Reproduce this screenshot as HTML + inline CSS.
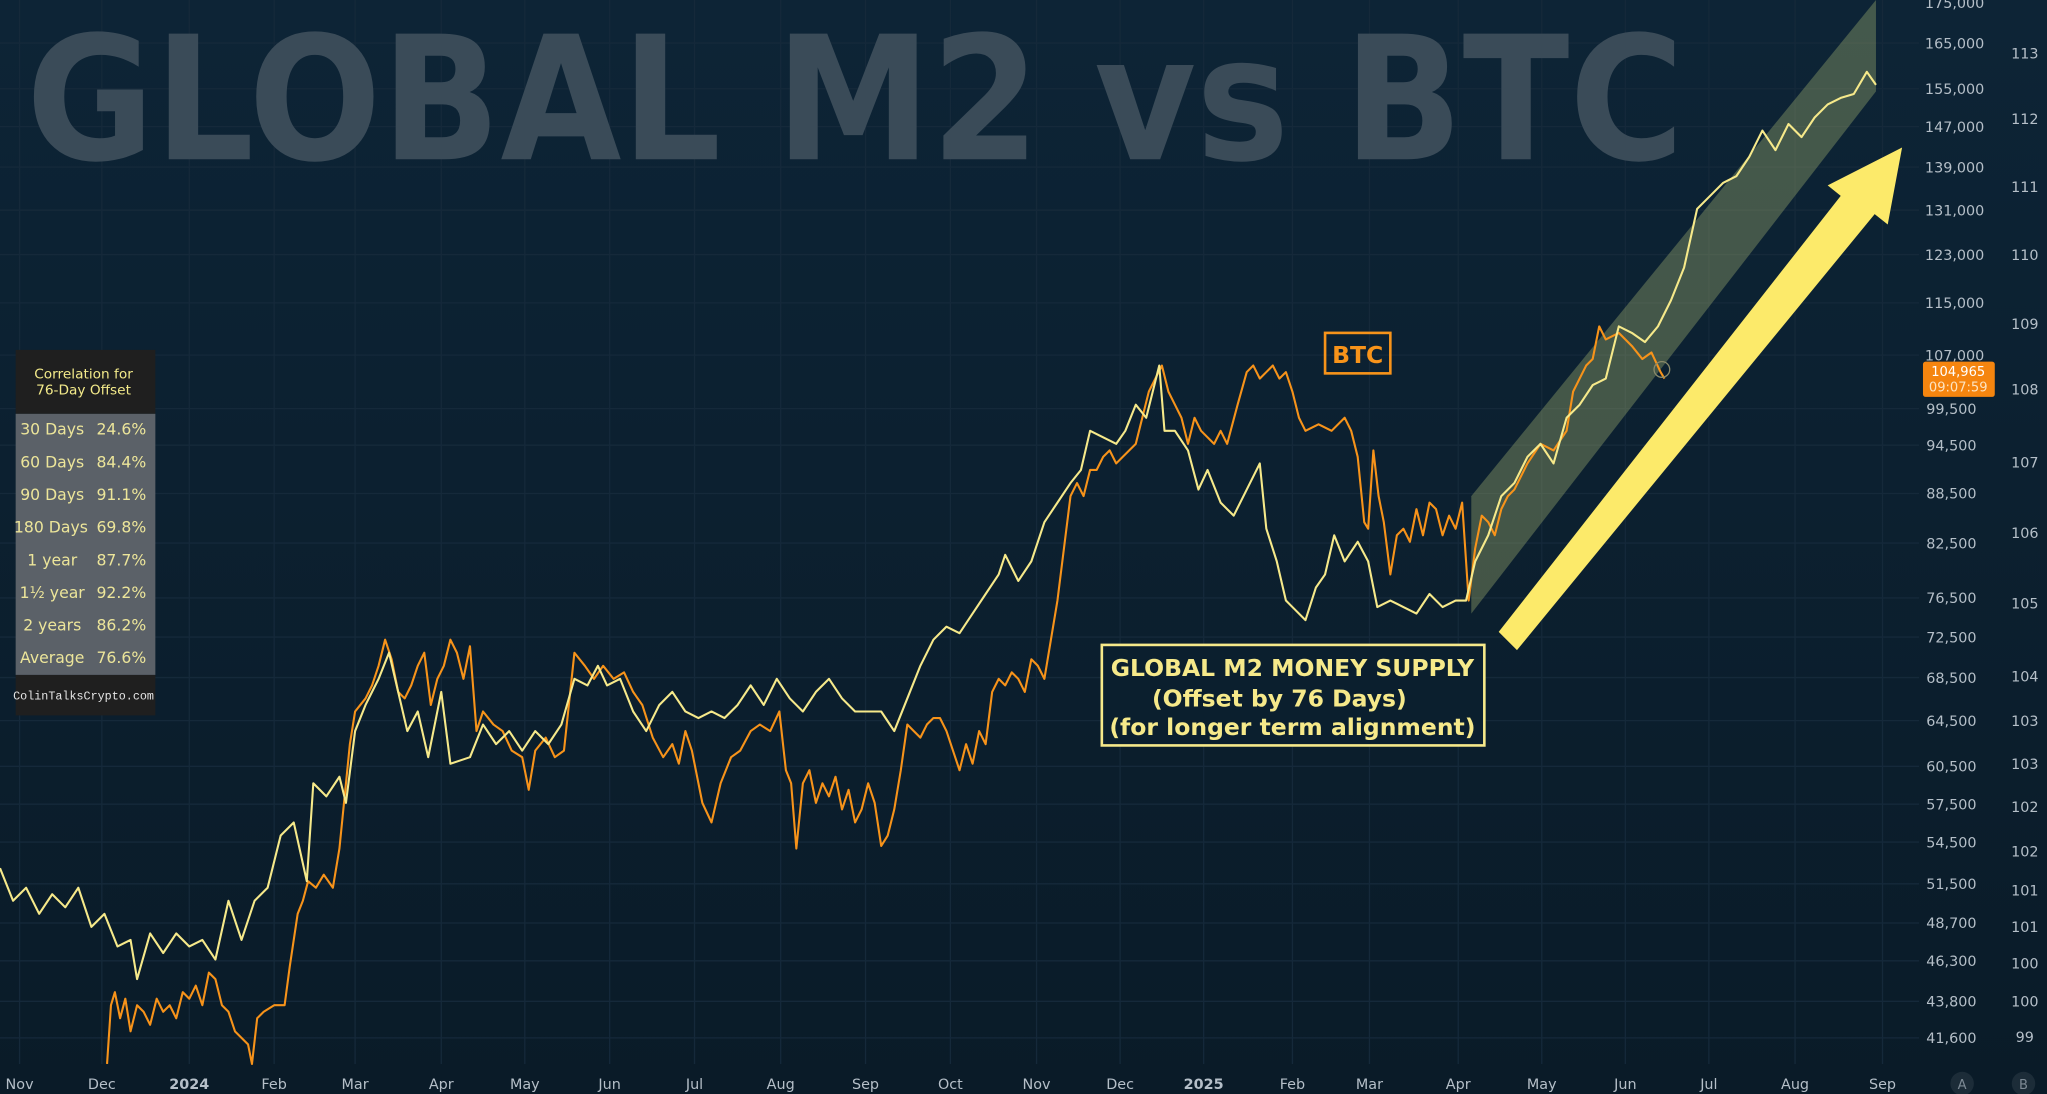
<!DOCTYPE html>
<html><head><meta charset="utf-8"><style>
html,body{margin:0;padding:0;background:#0b1f2e;}
svg{display:block;}
</style></head><body>
<svg width="2047" height="1094" viewBox="0 0 1568 838" preserveAspectRatio="none" xmlns="http://www.w3.org/2000/svg" font-family="'DejaVu Sans','Liberation Sans',sans-serif">
<defs>
<linearGradient id="bg" x1="0" y1="0" x2="0" y2="1">
<stop offset="0" stop-color="#0d2436"/><stop offset="1" stop-color="#0a1b28"/>
</linearGradient>
</defs>
<rect width="1568" height="838" fill="url(#bg)"/>
<g stroke="#15293a" stroke-width="1">
<line x1="15" y1="0" x2="15" y2="815"/><line x1="78" y1="0" x2="78" y2="815"/><line x1="145" y1="0" x2="145" y2="815"/><line x1="210" y1="0" x2="210" y2="815"/><line x1="272" y1="0" x2="272" y2="815"/><line x1="338" y1="0" x2="338" y2="815"/><line x1="402" y1="0" x2="402" y2="815"/><line x1="467" y1="0" x2="467" y2="815"/><line x1="532" y1="0" x2="532" y2="815"/><line x1="598" y1="0" x2="598" y2="815"/><line x1="663" y1="0" x2="663" y2="815"/><line x1="728" y1="0" x2="728" y2="815"/><line x1="794" y1="0" x2="794" y2="815"/><line x1="858" y1="0" x2="858" y2="815"/><line x1="922" y1="0" x2="922" y2="815"/><line x1="990" y1="0" x2="990" y2="815"/><line x1="1049" y1="0" x2="1049" y2="815"/><line x1="1117" y1="0" x2="1117" y2="815"/><line x1="1181" y1="0" x2="1181" y2="815"/><line x1="1245" y1="0" x2="1245" y2="815"/><line x1="1309" y1="0" x2="1309" y2="815"/><line x1="1375" y1="0" x2="1375" y2="815"/><line x1="1442" y1="0" x2="1442" y2="815"/>
<line x1="0" y1="33" x2="1470" y2="33"/><line x1="0" y1="68" x2="1470" y2="68"/><line x1="0" y1="97" x2="1470" y2="97"/><line x1="0" y1="128" x2="1470" y2="128"/><line x1="0" y1="161" x2="1470" y2="161"/><line x1="0" y1="195" x2="1470" y2="195"/><line x1="0" y1="232" x2="1470" y2="232"/><line x1="0" y1="272" x2="1470" y2="272"/><line x1="0" y1="313" x2="1470" y2="313"/><line x1="0" y1="341" x2="1470" y2="341"/><line x1="0" y1="378" x2="1470" y2="378"/><line x1="0" y1="416" x2="1470" y2="416"/><line x1="0" y1="458" x2="1470" y2="458"/><line x1="0" y1="488" x2="1470" y2="488"/><line x1="0" y1="519" x2="1470" y2="519"/><line x1="0" y1="552" x2="1470" y2="552"/><line x1="0" y1="587" x2="1470" y2="587"/><line x1="0" y1="616" x2="1470" y2="616"/><line x1="0" y1="645" x2="1470" y2="645"/><line x1="0" y1="677" x2="1470" y2="677"/><line x1="0" y1="707" x2="1470" y2="707"/><line x1="0" y1="736" x2="1470" y2="736"/><line x1="0" y1="767" x2="1470" y2="767"/><line x1="0" y1="795" x2="1470" y2="795"/>
</g>
<text x="20" y="122" font-size="132" font-weight="bold" fill="#3a4b58" textLength="1270" lengthAdjust="spacingAndGlyphs" font-family="'DejaVu Sans',sans-serif">GLOBAL M2 vs BTC</text>

<polygon points="1127,380 1437,0 1437,70 1127,470" fill="#b5c47a" fill-opacity="0.33"/>

<polyline fill="none" stroke="#f7931a" stroke-width="1.6" stroke-linejoin="round" points="82,815 85,770 88,760 92,780 96,765 100,790 105,770 110,775 115,785 120,765 125,775 130,770 135,780 140,760 145,765 150,755 155,770 160,745 165,750 170,770 175,775 180,790 185,795 190,800 193,815 197,780 202,775 210,770 218,770 222,740 228,700 232,690 236,675 242,680 248,670 255,680 260,650 265,600 268,570 272,545 276,540 280,535 285,525 290,510 295,490 300,505 305,530 310,535 315,525 320,510 325,500 330,540 335,520 340,510 345,490 350,500 355,520 360,495 365,560 370,545 378,555 385,560 392,575 400,580 405,605 410,575 418,565 425,580 432,575 440,500 448,510 455,520 462,510 470,520 478,515 485,530 492,540 500,565 508,580 515,570 520,585 525,560 530,575 538,615 545,630 552,600 560,580 567,575 575,560 582,555 590,560 597,545 602,590 606,600 610,650 615,600 620,590 625,615 630,600 635,610 640,595 645,620 650,605 655,630 660,620 665,600 670,615 675,648 680,640 685,620 690,590 695,555 700,560 705,565 710,555 715,550 720,550 725,560 730,575 735,590 740,570 745,585 750,560 755,570 760,530 765,520 770,525 775,515 780,520 785,530 790,505 795,510 800,520 805,490 810,460 815,420 820,380 825,370 830,380 835,360 840,360 845,350 850,345 855,355 860,350 865,345 870,340 875,320 880,300 885,290 890,280 895,300 900,310 905,320 910,340 915,320 920,330 930,340 935,330 940,340 948,310 955,285 960,280 965,290 970,285 975,280 980,290 985,285 990,300 995,320 1000,330 1010,325 1020,330 1030,320 1035,330 1040,350 1045,400 1048,405 1052,345 1056,380 1060,400 1065,440 1070,410 1075,405 1080,415 1085,390 1090,410 1095,385 1100,390 1105,410 1110,395 1115,405 1120,385 1125,460 1130,420 1135,395 1140,400 1145,410 1150,390 1155,380 1160,375 1170,355 1180,340 1190,345 1200,330 1205,300 1210,290 1215,280 1220,275 1225,250 1230,260 1240,255 1250,265 1258,275 1265,270 1272,285 1275,290"/>

<polyline fill="none" stroke="#f6e98a" stroke-width="1.6" stroke-linejoin="round" points="0,665 10,690 20,680 30,700 40,685 50,695 60,680 70,710 80,700 90,725 100,720 105,750 115,715 125,730 135,715 145,725 155,720 165,735 175,690 185,720 195,690 205,680 215,640 225,630 235,675 240,600 250,610 260,595 265,615 272,560 280,540 290,520 298,500 305,530 312,560 320,545 328,580 338,530 345,585 360,580 370,555 380,570 390,560 400,575 410,560 420,570 430,555 440,520 450,525 458,510 465,525 475,520 485,545 495,560 505,540 515,530 525,545 535,550 545,545 555,550 565,540 575,525 585,540 595,520 605,535 615,545 625,530 635,520 645,535 655,545 665,545 675,545 685,560 695,535 705,510 715,490 725,480 735,485 745,470 755,455 765,440 770,425 780,445 790,430 800,400 810,385 820,370 828,360 835,330 845,335 855,340 862,330 870,310 878,320 883,300 888,280 892,330 900,330 910,345 918,375 925,360 935,385 945,395 955,375 965,355 970,405 978,430 985,460 990,465 1000,475 1008,450 1015,440 1022,410 1030,430 1040,415 1048,430 1055,465 1065,460 1075,465 1085,470 1095,455 1105,465 1115,460 1123,460 1130,430 1140,410 1150,380 1160,370 1170,350 1180,340 1190,355 1200,320 1210,310 1220,295 1230,290 1240,250 1250,255 1260,262 1270,250 1280,230 1290,205 1300,160 1310,150 1320,140 1330,135 1340,120 1350,100 1360,115 1370,95 1380,105 1390,90 1400,80 1410,75 1420,72 1430,55 1437,65"/>

<circle cx="1273" cy="283" r="6" fill="none" stroke="#8a8a6a" stroke-width="1"/>

<polygon points="1148,484 1410,150 1400,142 1457,113 1446,172 1436,164 1162,498" fill="#fcea6a"/>

<rect x="1015" y="255" width="50" height="31" fill="none" stroke="#f7931a" stroke-width="2"/>
<text x="1040" y="278" font-size="18" font-weight="bold" fill="#f7931a" text-anchor="middle">BTC</text>

<rect x="844" y="494" width="293" height="77" fill="#0b1f2e" stroke="#f6e98a" stroke-width="2"/>
<g font-size="18" font-weight="bold" fill="#f6e98a" text-anchor="middle">
<text x="990" y="518">GLOBAL M2 MONEY SUPPLY</text>
<text x="980" y="541">(Offset by 76 Days)</text>
<text x="990" y="563">(for longer term alignment)</text>
</g>

<rect x="12" y="268" width="107" height="49" fill="#1f1f1f"/>
<rect x="12" y="317" width="107" height="200" fill="#5b6168"/>
<rect x="12" y="517" width="107" height="31" fill="#1f1f1f"/>
<g font-size="10.5" fill="#f3ea8a" text-anchor="middle">
<text x="64" y="290">Correlation for</text>
<text x="64" y="302">76-Day Offset</text>
</g>
<g font-size="12" fill="#ece59a">
<g text-anchor="middle">
<text x="40" y="333">30 Days</text><text x="40" y="358">60 Days</text><text x="40" y="383">90 Days</text><text x="39" y="408">180 Days</text><text x="40" y="433">1 year</text><text x="40" y="458">1½ year</text><text x="40" y="483">2 years</text><text x="40" y="508">Average</text>
</g>
<g text-anchor="end">
<text x="112" y="333">24.6%</text><text x="112" y="358">84.4%</text><text x="112" y="383">91.1%</text><text x="112" y="408">69.8%</text><text x="112" y="433">87.7%</text><text x="112" y="458">92.2%</text><text x="112" y="483">86.2%</text><text x="112" y="508">76.6%</text>
</g>
</g>
<text x="64" y="536" font-size="9" fill="#e6e6e6" text-anchor="middle" font-family="'Liberation Mono',monospace">ColinTalksCrypto.com</text>

<g font-size="11" fill="#b5bfc8" text-anchor="end">
<text x="1520" y="6">175,000</text><text x="1520" y="37">165,000</text><text x="1520" y="72">155,000</text><text x="1520" y="101">147,000</text><text x="1520" y="132">139,000</text><text x="1520" y="165">131,000</text><text x="1520" y="199">123,000</text><text x="1520" y="236">115,000</text><text x="1520" y="276">107,000</text><text x="1514" y="317">99,500</text><text x="1514" y="345">94,500</text><text x="1514" y="382">88,500</text><text x="1514" y="420">82,500</text><text x="1514" y="462">76,500</text><text x="1514" y="492">72,500</text><text x="1514" y="523">68,500</text><text x="1514" y="556">64,500</text><text x="1514" y="591">60,500</text><text x="1514" y="620">57,500</text><text x="1514" y="649">54,500</text><text x="1514" y="681">51,500</text><text x="1514" y="711">48,700</text><text x="1514" y="740">46,300</text><text x="1514" y="771">43,800</text><text x="1514" y="799">41,600</text>
</g>
<g font-size="11" fill="#b5bfc8" text-anchor="middle">
<text x="1551" y="45">113</text><text x="1551" y="95">112</text><text x="1551" y="147">111</text><text x="1551" y="199">110</text><text x="1551" y="252">109</text><text x="1551" y="302">108</text><text x="1551" y="358">107</text><text x="1551" y="412">106</text><text x="1551" y="466">105</text><text x="1551" y="522">104</text><text x="1551" y="556">103</text><text x="1551" y="589">103</text><text x="1551" y="622">102</text><text x="1551" y="656">102</text><text x="1551" y="686">101</text><text x="1551" y="714">101</text><text x="1551" y="742">100</text><text x="1551" y="771">100</text><text x="1551" y="798">99</text>
</g>
<rect x="1473" y="277" width="55" height="27" rx="2" fill="#f5850f"/>
<text x="1500" y="288" font-size="10" fill="#fff" text-anchor="middle">104,965</text>
<text x="1500" y="300" font-size="10" fill="#fde3c0" text-anchor="middle">09:07:59</text>

<g font-size="11" fill="#b5bfc8" text-anchor="middle">
<text x="15" y="834">Nov</text><text x="78" y="834">Dec</text><text x="145" y="834" font-weight="bold">2024</text><text x="210" y="834">Feb</text><text x="272" y="834">Mar</text><text x="338" y="834">Apr</text><text x="402" y="834">May</text><text x="467" y="834">Jun</text><text x="532" y="834">Jul</text><text x="598" y="834">Aug</text><text x="663" y="834">Sep</text><text x="728" y="834">Oct</text><text x="794" y="834">Nov</text><text x="858" y="834">Dec</text><text x="922" y="834" font-weight="bold">2025</text><text x="990" y="834">Feb</text><text x="1049" y="834">Mar</text><text x="1117" y="834">Apr</text><text x="1181" y="834">May</text><text x="1245" y="834">Jun</text><text x="1309" y="834">Jul</text><text x="1375" y="834">Aug</text><text x="1442" y="834">Sep</text>
</g>
<circle cx="1503" cy="830" r="9" fill="#1c2c38"/><circle cx="1550" cy="830" r="9" fill="#1c2c38"/>
<text x="1503" y="834" font-size="10" fill="#7d8a95" text-anchor="middle">A</text>
<text x="1550" y="834" font-size="10" fill="#7d8a95" text-anchor="middle">B</text>
</svg>
</body></html>
